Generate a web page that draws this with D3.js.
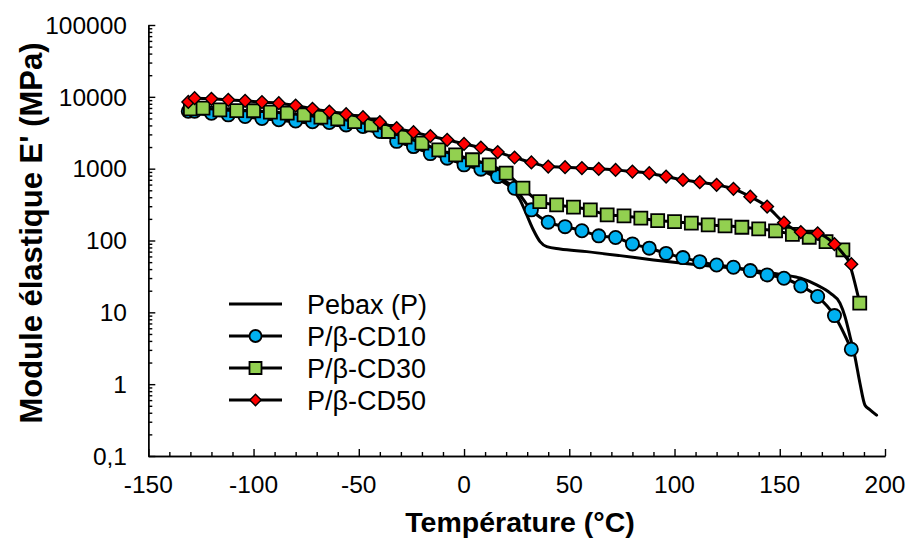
<!DOCTYPE html>
<html>
<head>
<meta charset="utf-8">
<script src="https://cdn.jsdelivr.net/npm/d3@7"></script>
<style>
  html, body { margin: 0; padding: 0; background: #fff; }
  svg { display: block; font-family: "Liberation Sans", Arial, sans-serif; }
</style>
</head>
<body>
<svg id="chart" width="907" height="538"></svg>
<script>
// ---- Data ----
const seriesNames = ["Pebax (P)", "P/β-CD10", "P/β-CD30", "P/β-CD50"];

const tempPebax = [-132, -120, -100, -80, -60, -48, -40, -30, -20, -10, 0, 10, 17, 22, 26.6, 29.8, 32.9, 36.1, 39.3, 45.6, 58.3, 74.1, 90, 104, 120, 136, 152, 160, 167.5, 174, 178.6, 181, 183.4, 185.7, 188.1, 190.5, 192.9, 196];
const ePebax = [6000, 5600, 5100, 4500, 4000, 3600, 3100, 2300, 1800, 1450, 1150, 900, 698, 552, 368, 227, 141, 96.6, 82.3, 76.4, 70, 61.6, 53.7, 48.3, 43.3, 39, 33.2, 29.9, 24.1, 18.5, 13.4, 8.7, 4.6, 2.42, 1.03, 0.51, 0.44, 0.37];

const tempCD10 = [-131, -128, -120, -112, -104, -96, -88, -80, -72, -64, -56, -48, -40, -32, -24, -16, -8, 0, 8, 16, 24, 32, 40, 48, 56, 64, 72, 80, 88, 96, 104, 112, 120, 128, 136, 144, 152, 160, 168, 176, 184];
const eCD10 = [6300, 6300, 5900, 5610, 5320, 5000, 4790, 4600, 4500, 4400, 4070, 3860, 3290, 2400, 2030, 1620, 1400, 1130, 984, 776, 535, 267, 180, 156, 137, 116, 110, 89.7, 78.2, 66.1, 57.8, 50.8, 45.7, 42.5, 38.1, 33.2, 29.8, 23.3, 16.6, 9.0, 3.06];

const tempCD30 = [-130, -124, -116, -108, -100, -92, -84, -76, -68, -60, -52, -44, -36, -28, -20, -12, -4, 4, 12, 20, 28, 36, 44, 52, 60, 68, 76, 84, 92, 100, 108, 116, 124, 132, 140, 148, 156, 164, 172, 180, 188];
const eCD30 = [6800, 6960, 6600, 6440, 6400, 6120, 5930, 5610, 5210, 4940, 4530, 4070, 3290, 2750, 2270, 1830, 1560, 1330, 1130, 865, 535, 348, 313, 291, 267, 227, 220, 205, 189, 183, 174, 165, 160, 153, 145, 136, 122, 111, 96.6, 74, 13.4];

const tempCD50 = [-131, -128, -120, -112, -104, -96, -88, -80, -72, -64, -56, -48, -40, -32, -24, -16, -8, 0, 8, 16, 24, 32, 40, 48, 56, 64, 72, 80, 88, 96, 104, 112, 120, 128, 136, 144, 152, 160, 168, 176, 184];
const eCD50 = [8500, 9590, 9380, 9080, 8790, 8440, 8170, 7560, 6800, 6240, 5740, 5210, 4440, 3670, 3220, 2840, 2520, 2210, 1970, 1700, 1430, 1220, 1070, 1050, 1020, 993, 962, 911, 865, 775, 698, 649, 595, 524, 408, 297, 177, 131, 126, 88.8, 46.8];

const xTicks = [-150, -100, -50, 0, 50, 100, 150, 200];
const xTickLabels = ["-150", "-100", "-50", "0", "50", "100", "150", "200"];
const yTicks = [0.1, 1, 10, 100, 1000, 10000, 100000];
const yTickLabels = ["0,1", "1", "10", "100", "1000", "10000", "100000"];

const xTitle = "Température (°C)";
const yTitle = "Module élastique E' (MPa)";

// ---- Layout ----
const svg = d3.select("#chart");
const x = d3.scaleLinear().domain([-150, 200]).range([148.3, 885]);
const y = d3.scaleLog().domain([0.1, 100000]).range([456, 25]);

// minor ticks
const xMinor = d3.range(-150, 201, 10).filter(v => !xTicks.includes(v));
const yMinor = [];
for (let e = -1; e < 5; e++) for (let m = 2; m <= 9; m++) yMinor.push(m * Math.pow(10, e));

// X axis
const gx = svg.append("g").attr("transform", `translate(0,${y(0.1)})`);
gx.call(d3.axisBottom(x).tickValues(xTicks).tickSize(-7).tickSizeOuter(0).tickFormat(""));
gx.append("g").call(d3.axisBottom(x).tickValues(xMinor).tickSize(-4).tickSizeOuter(0).tickFormat(""));
gx.selectAll("path,line").attr("stroke", "#000").attr("stroke-width", 1.4);
gx.selectAll(".tick text").remove();
svg.append("g").selectAll("text").data(xTicks).join("text")
  .attr("x", d => x(d)).attr("y", 493)
  .attr("text-anchor", "middle").attr("font-size", 24.5).attr("fill", "#000")
  .text((d, i) => xTickLabels[i]);

// Y axis
const gy = svg.append("g").attr("transform", `translate(${x(-150)},0)`);
gy.call(d3.axisLeft(y).tickValues(yTicks).tickSize(-7).tickSizeOuter(0).tickFormat(""));
gy.append("g").call(d3.axisLeft(y).tickValues(yMinor).tickSize(-4).tickSizeOuter(0).tickFormat(""));
gy.selectAll("path,line").attr("stroke", "#000").attr("stroke-width", 1.4);
svg.append("g").selectAll("text").data(yTicks).join("text")
  .attr("x", 127).attr("y", d => y(d)).attr("dy", "0.36em")
  .attr("text-anchor", "end").attr("font-size", 24.5).attr("fill", "#000")
  .text((d, i) => yTickLabels[i]);

// Titles
svg.append("text").attr("x", 520).attr("y", 532).attr("text-anchor", "middle")
  .attr("font-size", 28.5).attr("font-weight", "bold").text(xTitle);
svg.append("text").attr("transform", "translate(42,233) rotate(-90)").attr("text-anchor", "middle")
  .attr("font-size", 31).attr("font-weight", "bold").text(yTitle);

// ---- Series ----
const line = d3.line().x(d => x(d[0])).y(d => y(d[1])).curve(d3.curveMonotoneX);
const zip = (a, b) => a.map((v, i) => [v, b[i]]);

const plot = svg.append("g");
function drawLine(data) {
  plot.append("path").datum(data).attr("d", line)
    .attr("fill", "none").attr("stroke", "#000").attr("stroke-width", 3)
    .attr("stroke-linejoin", "round").attr("stroke-linecap", "round");
}
const sym = {
  circle: d3.symbol().type(d3.symbolCircle).size(Math.PI * 6.6 * 6.6),
  square: d3.symbol().type(d3.symbolSquare).size(13 * 13),
  diamond: d3.symbol().type(d3.symbolSquare).size(9 * 9)
};
function drawMarkers(data, shape, fill, sw) {
  plot.append("g").selectAll("path").data(data).join("path")
    .attr("d", sym[shape]())
    .attr("transform", d => `translate(${x(d[0])},${y(d[1])})` + (shape === "diamond" ? " rotate(45)" : ""))
    .attr("fill", fill).attr("stroke", "#000").attr("stroke-width", sw);
}

const pebax = zip(tempPebax, ePebax);
const cd10 = zip(tempCD10, eCD10);
const cd30 = zip(tempCD30, eCD30);
const cd50 = zip(tempCD50, eCD50);

drawLine(pebax);
drawLine(cd10); drawMarkers(cd10, "circle", "#00b0f0", 1.8);
drawLine(cd30); drawMarkers(cd30, "square", "#92d050", 1.8);
drawLine(cd50); drawMarkers(cd50, "diamond", "#ff0000", 1.4);

// ---- Legend ----
const legY = [304, 336, 368, 400];
const legShapes = [null, ["circle", "#00b0f0", 1.8], ["square", "#92d050", 1.8], ["diamond", "#ff0000", 1.4]];
const leg = svg.append("g");
seriesNames.forEach((name, i) => {
  leg.append("line").attr("x1", 229).attr("x2", 282).attr("y1", legY[i]).attr("y2", legY[i])
    .attr("stroke", "#000").attr("stroke-width", 3);
  const s = legShapes[i];
  if (s) {
    const size = s[0] === "circle" ? Math.PI * 6 * 6 : s[0] === "square" ? 12 * 12 : 8 * 8;
    leg.append("path").attr("d", d3.symbol().type(s[0] === "circle" ? d3.symbolCircle : d3.symbolSquare).size(size)())
      .attr("transform", `translate(255.5,${legY[i]})` + (s[0] === "diamond" ? " rotate(45)" : ""))
      .attr("fill", s[1]).attr("stroke", "#000").attr("stroke-width", s[2]);
  }
  leg.append("text").attr("x", 307).attr("y", legY[i]).attr("dy", "0.36em")
    .attr("font-size", 27).attr("fill", "#000").text(name);
});
</script>
</body>
</html>
